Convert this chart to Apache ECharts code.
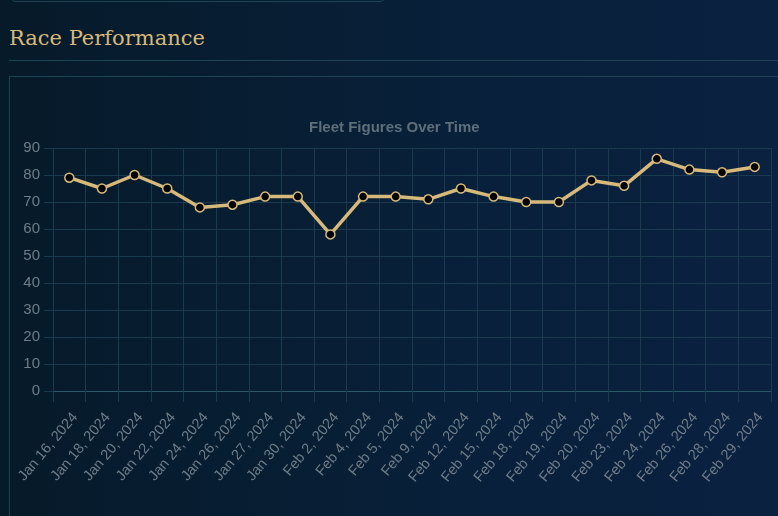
<!DOCTYPE html>
<html>
<head>
<meta charset="utf-8">
<script src="https://cdn.jsdelivr.net/npm/echarts@6/dist/echarts.min.js"></script>
<style>
  html, body { margin: 0; padding: 0; width: 778px; height: 516px; overflow: hidden; }
  body { background: linear-gradient(90deg, #061a29 0%, #08203a 60%, #0a2140 100%); position: relative; }
  .panel-top { position: absolute; left: 10px; top: -20px; width: 374px; height: 20px;
    border: 1px solid #1d4453; border-radius: 6px; }
  h2 { position: absolute; left: 9px; top: 26px; margin: 0; font-family: "DejaVu Serif", serif;
    font-weight: normal; font-size: 21px; color: #d6b97b; }
  .rule { position: absolute; left: 9px; right: 0; top: 60px; border-top: 1px solid #1d4453; }
  #chart { position: absolute; left: 9px; top: 76px; width: 780px; height: 450px;
    border-left: 1px solid #1d4453; border-top: 1px solid #1d4453; }
</style>
</head>
<body>
<div class="panel-top"></div>
<h2>Race Performance</h2>
<div class="rule"></div>
<div id="chart"></div>
<script>
// race dates and fleet figure for each
var dates = ['Jan 16, 2024', 'Jan 18, 2024', 'Jan 20, 2024', 'Jan 22, 2024', 'Jan 24, 2024',
  'Jan 26, 2024', 'Jan 27, 2024', 'Jan 30, 2024', 'Feb 2, 2024', 'Feb 4, 2024', 'Feb 5, 2024',
  'Feb 9, 2024', 'Feb 12, 2024', 'Feb 15, 2024', 'Feb 18, 2024', 'Feb 19, 2024', 'Feb 20, 2024',
  'Feb 23, 2024', 'Feb 24, 2024', 'Feb 26, 2024', 'Feb 28, 2024', 'Feb 29, 2024'];
var fleet = [79, 75, 80, 75, 68, 69, 72, 72, 58, 72, 72, 71, 75, 72, 70, 70, 78, 76, 86, 82, 81, 83];
var yTicks = [0, 10, 20, 30, 40, 50, 60, 70, 80, 90];

var gridColor = '#1a3a4d';
var labelColor = '#6f7d89';
var lineColor = '#d6b97b';

var myChart = echarts.init(document.getElementById('chart'));
var option = {
  animation: false,
  title: {
    text: 'Fleet Figures Over Time',
    left: 294,
    top: 38,
    textStyle: { color: '#5f6e7b', fontSize: 15, fontWeight: 'bold', fontFamily: 'Liberation Sans' }
  },
  grid: { left: 43, right: 19, top: 71, bottom: 136 },
  xAxis: {
    type: 'category',
    data: dates,
    boundaryGap: true,
    axisLine: { lineStyle: { color: '#2c5868' } },
    axisTick: { show: true, length: 11, lineStyle: { color: gridColor } },
    splitLine: { show: true, lineStyle: { color: gridColor } },
    axisLabel: {
      rotate: 50, interval: 0, color: labelColor, fontSize: 14.5, fontFamily: 'Liberation Sans',
      margin: 19, verticalAlign: 'top'
    }
  },
  yAxis: {
    type: 'value',
    min: yTicks[0],
    max: yTicks[yTicks.length - 1],
    interval: 10,
    axisLine: { show: false },
    axisTick: { show: true, length: 9, lineStyle: { color: gridColor } },
    splitLine: { lineStyle: { color: gridColor } },
    axisLabel: { color: labelColor, fontSize: 15, fontFamily: 'Liberation Sans', margin: 13 }
  },
  series: [{
    type: 'line',
    data: fleet,
    symbol: 'circle',
    symbolSize: 9,
    lineStyle: { color: lineColor, width: 3.5 },
    itemStyle: { color: '#000', borderColor: lineColor, borderWidth: 1.5 }
  }]
};
myChart.setOption(option);
</script>
</body>
</html>
